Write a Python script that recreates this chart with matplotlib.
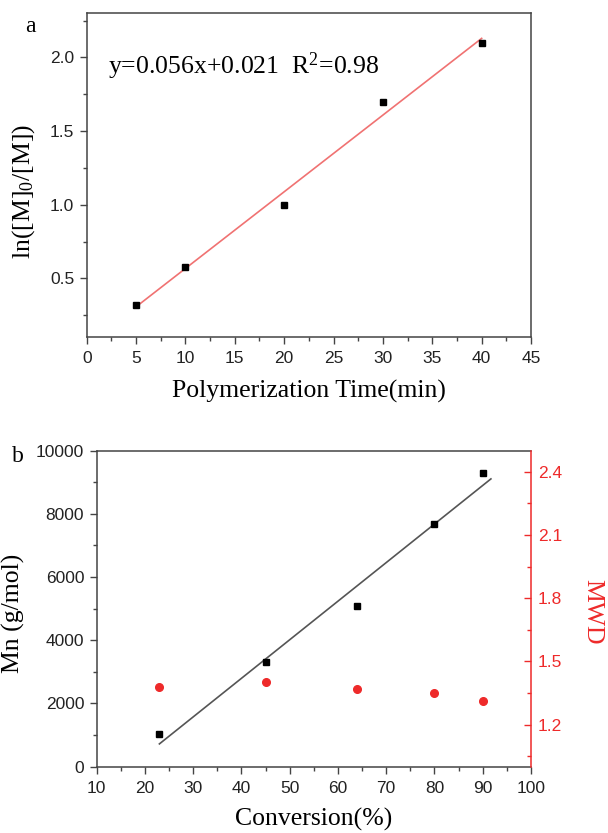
import numpy as np
import matplotlib
matplotlib.use("Agg")
import matplotlib.pyplot as plt
from matplotlib.ticker import MultipleLocator

plt.rcParams['font.family'] = ['Liberation Sans', 'DejaVu Sans']
plt.rcParams['mathtext.fontset'] = 'custom'
plt.rcParams['mathtext.rm'] = 'Liberation Serif'
plt.rcParams['mathtext.it'] = 'Liberation Serif'

# panel a: kinetics
time_min = [5, 10, 20, 30, 40]
ln_m0_m = [0.32, 0.58, 1.00, 1.70, 2.10]
fit_text_a = "y=0.056x+0.021  R$^{2}$=0.98"

# panel b: Mn and MWD vs conversion
conversion = [23, 45, 64, 80, 90]
mn = [1020, 3320, 5100, 7690, 9300]
mwd = [1.38, 1.40, 1.37, 1.35, 1.31]
fit_end_b = 91.7

SERIF = 'Liberation Serif'
RED = '#ee2a2a'
SPINE = '#444444'

fig = plt.figure(figsize=(6.08, 8.33), dpi=100)


def style_axis(ax):
    for s in ax.spines.values():
        s.set_color(SPINE)
        s.set_linewidth(1.1)
    ax.tick_params(which='both', direction='out', top=False, right=False,
                   color=SPINE, width=1.0, labelsize=12.5, labelcolor='#222222')
    ax.tick_params(which='major', length=5, pad=4)
    ax.tick_params(which='minor', length=3)


# ---- panel a ----
ax1 = fig.add_axes([0.1426, 0.5951, 0.7308, 0.3890])
style_axis(ax1)
k, b = np.polyfit(time_min, ln_m0_m, 1)
xf = np.array([min(time_min), max(time_min)])
ax1.plot(xf, k * xf + b, color='#f07272', lw=1.2, zorder=2)
ax1.plot(time_min, ln_m0_m, 's', color='black', ms=5, zorder=3)
ax1.set_xlim(0, 45)
ax1.set_ylim(0.1, 2.3)
ax1.xaxis.set_major_locator(MultipleLocator(5))
ax1.xaxis.set_minor_locator(MultipleLocator(2.5))
ax1.yaxis.set_major_locator(MultipleLocator(0.5))
ax1.yaxis.set_minor_locator(MultipleLocator(0.25))
ax1.tick_params(axis='x', which='major', pad=5)
ax1.text(2.2, 1.94, fit_text_a, family=SERIF, fontsize=18.5, va='center', ha='left')
ax1.set_xlabel('Polymerization Time(min)', family=SERIF, fontsize=18.5)
ax1.xaxis.set_label_coords(0.5, -0.132)
ax1.set_ylabel('ln([M]$_{0}$/[M])', family=SERIF, fontsize=18.5)
ax1.yaxis.set_label_coords(-0.112, 0.45)
fig.text(30 / 608, 1 - 27 / 833, 'a', family=SERIF, fontsize=17, ha='center', va='center')

# ---- panel b ----
ax2 = fig.add_axes([0.1590, 0.0796, 0.7143, 0.3794])
style_axis(ax2)
ax2.spines['right'].set_visible(False)
k2, b2 = np.polyfit(conversion, mn, 1)
xf2 = np.array([min(conversion), fit_end_b])
ax2.plot(xf2, k2 * xf2 + b2, color='#555555', lw=1.2, zorder=2)
ax2.plot(conversion, mn, 's', color='black', ms=5, zorder=3)
ax2.set_xlim(10, 100)
ax2.set_ylim(0, 10000)
ax2.xaxis.set_major_locator(MultipleLocator(10))
ax2.xaxis.set_minor_locator(MultipleLocator(5))
ax2.yaxis.set_major_locator(MultipleLocator(2000))
ax2.yaxis.set_minor_locator(MultipleLocator(1000))
ax2.tick_params(axis='x', which='major', pad=5)
ax2.set_xlabel('Conversion(%)', family=SERIF, fontsize=18.5)
ax2.xaxis.set_label_coords(0.5, -0.131)
ax2.set_ylabel('Mn (g/mol)', family=SERIF, fontsize=18.5)
ax2.yaxis.set_label_coords(-0.165, 0.486)

ax3 = ax2.twinx()
for name, s in ax3.spines.items():
    s.set_visible(name == 'right')
ax3.spines['right'].set_color(RED)
ax3.spines['right'].set_linewidth(1.1)
ax3.plot(conversion, mwd, 'o', color=RED, ms=5.5, zorder=3)
ax3.set_ylim(1.0, 2.5)
ax3.yaxis.set_major_locator(MultipleLocator(0.3))
ax3.yaxis.set_minor_locator(MultipleLocator(0.15))
ax3.tick_params(which='both', direction='in', color=RED, labelcolor=RED,
                labelsize=12.5, width=1.0)
ax3.tick_params(which='major', length=5, pad=5)
ax3.tick_params(which='minor', length=3)
ax3.set_ylabel('MWD', family=SERIF, fontsize=18.5, color=RED, rotation=-90)
ax3.yaxis.set_label_coords(1.166, 0.49)
fig.text(18 / 608, 1 - 457 / 833, 'b', family=SERIF, fontsize=17, ha='center', va='center')

fig.savefig('out.png', dpi=100)
